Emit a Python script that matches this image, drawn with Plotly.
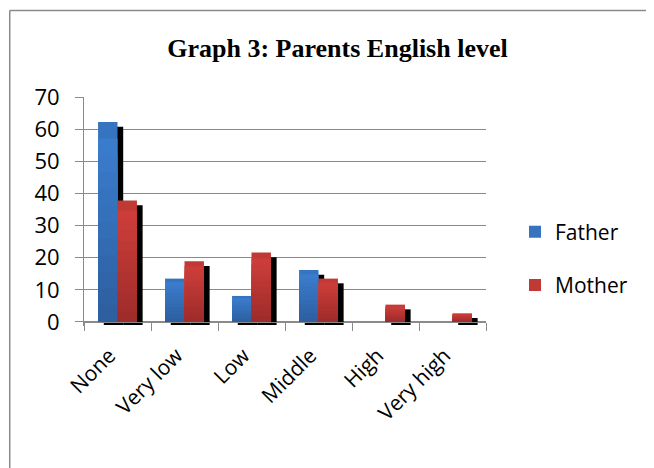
import plotly.graph_objects as go

categories = ["None", "Very low", "Low", "Middle", "High", "Very high"]
father = [62.2, 13.5, 8.1, 16.2, 0, 0]
mother = [37.8, 18.9, 21.6, 13.5, 5.4, 2.7]
y_ticks = [0, 10, 20, 30, 40, 50, 60, 70]

# page body adds an 8px offset, so figure coordinates = reference pixels - 8
W, H = 646, 460
ML, MR, MT, MB = 76.3, 167.5, 89.3, 142
PW, PH = W - ML - MR, H - MT - MB
Y0_PX = 314  # pixel of value 0 (figure coords)
UNIT_PX = (Y0_PX - MT) / 70.0
ymin = -(H - MB - Y0_PX) / UNIT_PX

BAR_W = 0.29
OFF = 0.145
SH_DX = 5.7 / (PW / 6.0)
SH_DY = 4.7 / UNIT_PX
SH_BASE = -3.0 / UNIT_PX
N_BANDS = 12

xs = list(range(len(categories)))

def shadow(vals):
    return [None if v == 0 else max(v - SH_DY, 0) - SH_BASE for v in vals]

def mix(c1, c2, t):
    return "rgb(%d,%d,%d)" % tuple(round(a + (b - a) * t) for a, b in zip(c1, c2))

BLUE_TOP, BLUE_BOT = (60, 128, 211), (45, 94, 158)
RED_TOP, RED_BOT = (211, 64, 60), (156, 43, 41)

fig = go.Figure()
fig.add_trace(go.Bar(x=[x - OFF + SH_DX for x in xs], y=shadow(father), base=SH_BASE,
                     width=BAR_W, marker=dict(color="black", line_width=0),
                     showlegend=False, hoverinfo="skip"))
fig.add_trace(go.Bar(x=[x + OFF + SH_DX for x in xs], y=shadow(mother), base=SH_BASE,
                     width=BAR_W, marker=dict(color="black", line_width=0),
                     showlegend=False, hoverinfo="skip"))

def add_series(vals, name, xoff, ctop, cbot, group):
    # vertical gradient: full bar first, then progressively shorter, darker layers
    for k in range(N_BANDS):
        frac = 1 - k / N_BANDS
        t = (k + 0.5) / N_BANDS
        fig.add_trace(go.Bar(
            x=[x + xoff for x in xs],
            y=[v * frac for v in vals] if k > 0 else vals,
            width=BAR_W, name=name, legendgroup=group,
            showlegend=(k == 0),
            hoverinfo="skip" if k > 0 else None,
            marker=dict(color=mix(ctop, cbot, t) if k > 0 else mix(ctop, cbot, 0.35),
                        line_width=0)))

add_series(father, "Father", -OFF, BLUE_TOP, BLUE_BOT, "f")
add_series(mother, "Mother", OFF, RED_TOP, RED_BOT, "m")

def px_x(p):
    return (p - ML) / PW

def px_y(p):
    return (H - MB - p) / PH

grey = "#8a8a8a"
fig.update_layout(
    width=W, height=H,
    margin=dict(l=ML, r=MR, t=MT, b=MB),
    paper_bgcolor="white", plot_bgcolor="white",
    barmode="overlay",
    title=dict(text="<b>Graph 3: Parents English level</b>", x=329.5 / W, xanchor="center",
               y=1 - 40 / H, yanchor="middle",
               font=dict(family="Liberation Serif", size=26, color="black")),
    font=dict(family="Open Sans", color="black"),
    xaxis=dict(range=[-0.5, 5.5], tickvals=xs, ticktext=categories, tickangle=-45,
               ticks="", showgrid=False, showline=True, linecolor=grey, linewidth=1,
               anchor="free", position=px_y(Y0_PX), zeroline=False,
               ticklabelshift=-8, ticklabelstandoff=12,
               tickfont=dict(family="Open Sans", size=21, color="black"),
               minor=dict(tick0=-0.5, dtick=1, ticks="outside", ticklen=8, tickcolor=grey,
                          showgrid=False)),
    yaxis=dict(range=[ymin, 70], tickvals=y_ticks, showgrid=True, gridcolor=grey,
               gridwidth=1, zeroline=False, showline=True, linecolor=grey, linewidth=1,
               ticks="outside", ticklen=8, tickcolor=grey, ticklabelstandoff=11,
               tickfont=dict(family="Open Sans", size=22, color="black")),
    legend=dict(xref="container", yref="container", x=507 / W, xanchor="left",
                y=1 - 250.5 / H, yanchor="middle", traceorder="grouped",
                tracegroupgap=23, font=dict(family="Open Sans", size=21, color="black"),
                bgcolor="rgba(0,0,0,0)"),
    shapes=[
        dict(type="line", xref="paper", yref="paper", x0=px_x(2), x1=px_x(W + 5),
             y0=px_y(3), y1=px_y(3), line=dict(color=grey, width=1.5)),
        dict(type="line", xref="paper", yref="paper", x0=px_x(2), x1=px_x(2),
             y0=px_y(3), y1=px_y(H + 5), line=dict(color=grey, width=1.5)),
    ],
)

fig.write_html("out.html")
